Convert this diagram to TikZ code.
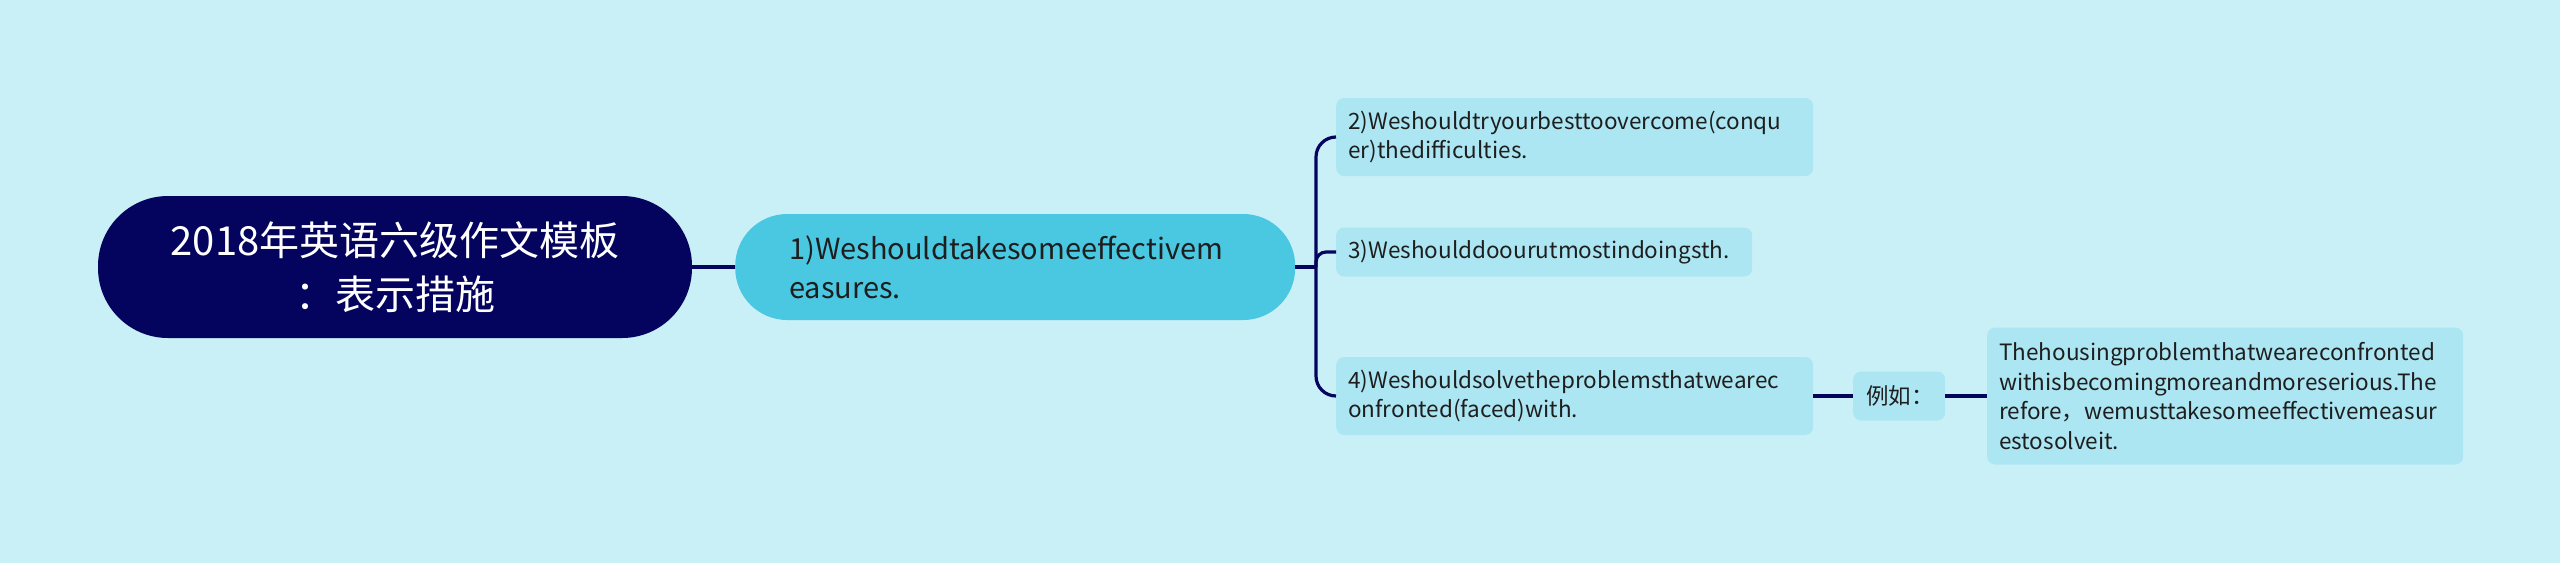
\documentclass[tikz,border=0pt]{standalone}
\usepackage{fontspec}
\setmainfont{Noto Sans CJK SC}
\definecolor{bgcol}{RGB}{201,240,247}
\definecolor{navy}{RGB}{4,4,94}
\definecolor{midcyan}{RGB}{74,200,226}
\definecolor{litecyan}{RGB}{172,230,243}
\definecolor{inkcol}{RGB}{30,30,30}

\begin{document}
\begin{tikzpicture}[x=1pt, y=-1pt,
    every node/.style={inner sep=0pt, text=inkcol},
    rootbox/.style={fill=navy, text=white, rounded corners=70, minimum width=594, minimum height=142, align=center, font=\fontsize{40}{54}\selectfont},
    mainbox/.style={fill=midcyan, rounded corners=52, minimum height=106, text width=452, inner xsep=54, align=left, anchor=west, font=\fontsize{29}{39}\selectfont},
    subbox/.style={fill=litecyan, rounded corners=8, inner xsep=12, align=left, anchor=west, font=\fontsize{22.5}{29.5}\selectfont},
    link/.style={draw=navy, line width=3.2}]
    \fill[bgcol] (0,0) rectangle (2560,563);
    \useasboundingbox (0,0) rectangle (2560,563);

    \node[rootbox] (root) at (395,267) {2018年英语六级作文模板\\：表示措施};
    \node[mainbox] (m1) at (735,267) {1)Weshouldtakesomeeffectivem\\easures.};
    \node[subbox, text width=453, minimum height=78] (s2) at (1336,137) {2)Weshouldtryourbesttoovercome(conqu\\er)thedifficulties.};
    \node[subbox, text width=392, minimum height=49] (s3) at (1336,252) {3)Weshoulddoourutmostindoingsth.};
    \node[subbox, text width=453, minimum height=78] (s4) at (1336,396) {4)Weshouldsolvetheproblemsthatwearec\\onfronted(faced)with.};
    \node[subbox, text width=66, inner xsep=13, minimum height=49] (eg) at (1853,396) {例如：};
    \node[subbox, text width=452, minimum height=137] (ex) at (1987,396) {Thehousingproblemthatweareconfronted\\withisbecomingmoreandmoreserious.The\\refore，wemusttakesomeeffectivemeasur\\estosolveit.};

    \coordinate (fork) at (1316,267);
    \draw[link] (root) -- (m1);
    \draw[link] (m1) -- (fork);
    \draw[link, rounded corners=20] (fork) |- (s2);
    \draw[link, rounded corners=10] (fork) |- (s3);
    \draw[link, rounded corners=20] (fork) |- (s4);
    \draw[link] (s4) -- (eg);
    \draw[link] (eg) -- (ex);
\end{tikzpicture}
\end{document}
